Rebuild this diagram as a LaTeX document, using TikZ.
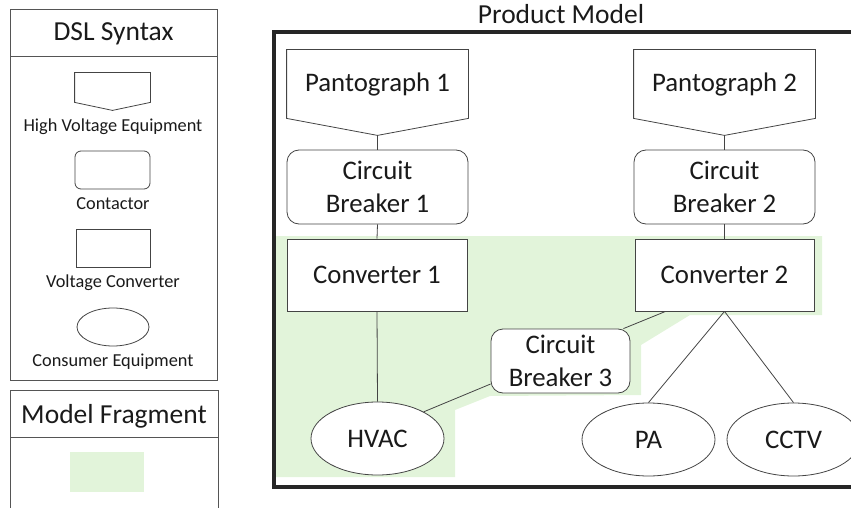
\documentclass[tikz,border=0pt]{standalone}
\usepackage{fontspec}
\setmainfont{Carlito}
\usepackage{tikz}
\usetikzlibrary{shapes.geometric, positioning, calc}
\definecolor{LineGrey}{HTML}{444444}
\definecolor{FrameGrey}{HTML}{555555}
\definecolor{TextDark}{HTML}{1A1A1A}
\definecolor{FragGreen}{HTML}{E2F4DA}
\tikzset{
  hvbox/.style={rectangle, fill=white, minimum width=181pt, minimum height=68pt, inner sep=0pt, font=\fontsize{26.8}{33}\selectfont, text=TextDark, align=center},
  contactorbox/.style={rectangle, rounded corners=12pt, draw=LineGrey, fill=white, minimum width=181pt, minimum height=74pt, inner sep=0pt, font=\fontsize{26.8}{33}\selectfont, text=TextDark, align=center},
  converterbox/.style={rectangle, draw=LineGrey, fill=white, minimum width=180pt, minimum height=72pt, inner sep=0pt, font=\fontsize{26.8}{33}\selectfont, text=TextDark, align=center},
  consumerbox/.style={ellipse, draw=LineGrey, fill=white, minimum width=133pt, minimum height=73pt, inner sep=0pt, font=\fontsize{26.8}{33}\selectfont, text=TextDark, align=center},
  legendlabel/.style={font=\fontsize{18.3}{21}\selectfont, text=TextDark},
  headlabel/.style={font=\fontsize{27.5}{31}\selectfont, text=TextDark},
  link/.style={draw=LineGrey, line width=0.8pt}
}
% outline of a high voltage item: box with a shallow point at the bottom
\newcommand{\hvoutline}[2]{%
  \draw[LineGrey, line width=0.8pt] (#1.north west) -- (#1.north east) -- (#1.south east)
    -- ([yshift=-#2]#1.south) -- (#1.south west) -- cycle;}

\begin{document}
\begin{tikzpicture}[x=1pt, y=-1pt, line width=0.8pt]
  \clip (0,0) rectangle (851,508);

  % legend: DSL syntax
  \draw[FrameGrey] (10,9) rectangle (217,380);
  \draw[FrameGrey] (10,56) -- (217,56);
  \node[headlabel] (dsltitle) at (113.5,34) {DSL Syntax};

  \node[hvbox, minimum width=75pt, minimum height=29pt] (lhv) at (112.5,87.5) {};
  \hvoutline{lhv}{8pt}
  \node[legendlabel] (lhvtext) at (113,127) {High Voltage Equipment};
  \node[contactorbox, rounded corners=6pt, minimum width=75pt, minimum height=38pt] (lcb) at (112.5,170) {};
  \node[legendlabel] (lcbtext) at (113,204) {Contactor};
  \node[converterbox, minimum width=74pt, minimum height=38pt] (lconv) at (113,248) {};
  \node[legendlabel] (lconvtext) at (113,283) {Voltage Converter};
  \node[consumerbox, minimum width=72pt, minimum height=38pt] (lcons) at (113,327) {};
  \node[legendlabel] (lconstext) at (113,362) {Consumer Equipment};

  % legend: model fragment
  \draw[FrameGrey] (10,520) -- (10,390) -- (218,390) -- (218,520);
  \draw[FrameGrey] (10,437) -- (218,437);
  \node[headlabel] (fragtitle) at (114,416) {Model Fragment};
  \fill[FragGreen] (70,452) rectangle (144,492);

  % product model frame
  \node[headlabel] (pmtitle) at (561,14) {Product Model};
  \fill[FragGreen] (275,236) -- (822,236) -- (822,315) -- (690,315) -- (641,345) -- (641,395)
    -- (490,396) -- (455,410) -- (455,477) -- (275,477) -- cycle;
  \draw[line width=3.5pt, black!85] (274,32) rectangle (880,487);

  % feed side
  \node[hvbox] (p1) at (377.5,84) {Pantograph 1};
  \hvoutline{p1}{17pt}
  \coordinate (p1tip) at ([yshift=-17pt]p1.south);
  \node[hvbox] (p2) at (724.5,84) {Pantograph 2};
  \hvoutline{p2}{17pt}
  \coordinate (p2tip) at ([yshift=-17pt]p2.south);

  \node[contactorbox] (cb1) at (377.5,187) {Circuit\\Breaker 1};
  \node[contactorbox] (cb2) at (724.5,187) {Circuit\\Breaker 2};
  \node[converterbox] (c1) at (377,275) {Converter 1};
  \node[converterbox, minimum width=179pt] (c2) at (724.5,275) {Converter 2};
  \node[contactorbox, minimum width=139pt, minimum height=64pt] (cb3) at (560.5,361) {Circuit\\Breaker 3};

  % consumers
  \node[consumerbox] (hvac) at (377.5,438.5) {HVAC};
  \node[consumerbox] (pa) at (648.5,439.5) {PA};
  \node[consumerbox] (cctv) at (793.5,439.5) {CCTV};

  % connections
  \draw[link] (p1tip) -- (cb1.north);
  \draw[link] (cb1.south) -- (c1.north);
  \draw[link] (c1.south) -- (hvac.north);
  \draw[link] (p2tip) -- (cb2.north);
  \draw[link] (cb2.south) -- (c2.north);
  \draw[link] (c2.south) -- (pa.north);
  \draw[link] (c2.south) -- (cctv.north);
  \draw[link] ([xshift=31pt]c2.south west) -- ([xshift=-7pt]cb3.north east);
  \draw[link] (hvac.30) -- ([yshift=-23pt]cb3.west);
\end{tikzpicture}
\end{document}
